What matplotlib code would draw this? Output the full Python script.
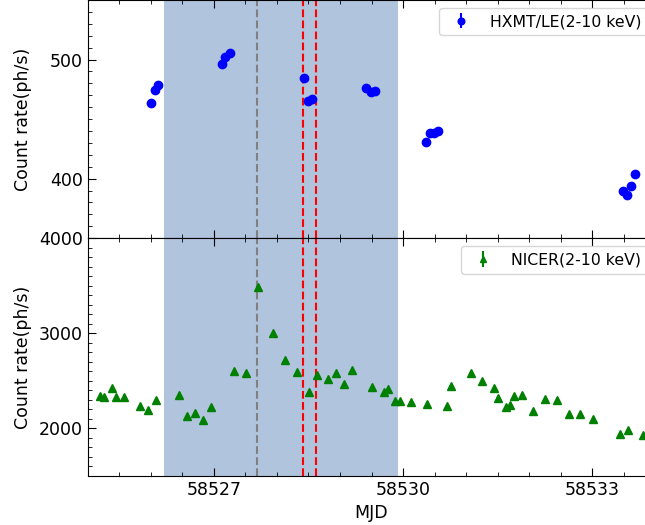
import numpy as np
import matplotlib
matplotlib.use("Agg")
import matplotlib.pyplot as plt
from matplotlib.ticker import MultipleLocator

# HXMT/LE light curve (2-10 keV)
hxmt_t = [58525.996, 58526.060, 58526.118, 58527.122, 58527.175, 58527.249,
          58528.433, 58528.497, 58528.560, 58529.420, 58529.485, 58529.560,
          58530.368, 58530.425, 58530.490, 58530.550,
          58533.485, 58533.544, 58533.612, 58533.670]
hxmt_rate = [463.3, 474.2, 479.0, 496.6, 502.5, 505.3,
             484.3, 465.0, 467.0, 476.5, 472.5, 473.4,
             430.8, 438.1, 438.7, 439.8,
             389.4, 386.6, 393.5, 403.6]
hxmt_err = [2.0, 2.0, 2.0, 2.0, 2.0, 2.0, 2.0, 2.0, 2.0, 2.0,
            2.0, 2.0, 2.0, 2.0, 2.0, 2.0, 2.0, 2.0, 2.0, 2.0]

# NICER light curve (2-10 keV)
nicer_t = [58525.193, 58525.256, 58525.383, 58525.446, 58525.573, 58525.822,
           58525.949, 58526.076, 58526.440, 58526.567, 58526.694, 58526.821,
           58526.947, 58527.317, 58527.507, 58527.693, 58527.941, 58528.132,
           58528.322, 58528.506, 58528.633, 58528.814, 58528.940, 58529.067,
           58529.194, 58529.511, 58529.690, 58529.754, 58529.880, 58529.944,
           58530.130, 58530.383, 58530.690, 58530.753, 58531.070, 58531.256,
           58531.440, 58531.503, 58531.630, 58531.694, 58531.752, 58531.879,
           58532.064, 58532.254, 58532.445, 58532.624, 58532.810, 58533.005,
           58533.438, 58533.565, 58533.810]
nicer_rate = [2342, 2324, 2419, 2324, 2324, 2232,
              2190, 2296, 2348, 2134, 2163, 2089,
              2219, 2602, 2578, 3489, 2997, 2715,
              2596, 2377, 2560, 2514, 2585, 2469,
              2609, 2430, 2377, 2412, 2289, 2289,
              2275, 2253, 2232, 2440, 2585, 2500,
              2419, 2321, 2226, 2250, 2342, 2353,
              2180, 2306, 2300, 2145, 2145, 2099,
              1941, 1979, 1934]
nicer_err = [15] * len(nicer_t)

shade = (58526.207, 58529.917)
grey_line = 58527.688
red_lines = [58528.417, 58528.620]

plt.rcParams['font.size'] = 12.5
plt.rcParams['xtick.direction'] = 'in'
plt.rcParams['ytick.direction'] = 'in'
plt.rcParams['xtick.top'] = True
plt.rcParams['ytick.right'] = True

fig = plt.figure(figsize=(6.45, 5.25), dpi=100)
left, right = 0.136, 1.016
ax1 = fig.add_axes([left, 0.5464, right - left, 0.4536])
ax2 = fig.add_axes([left, 0.0937, right - left, 0.4527], sharex=ax1)

for ax in (ax1, ax2):
    ax.axvspan(*shade, color='lightsteelblue', lw=0, zorder=0)
    ax.axvline(grey_line, color='grey', ls='--', lw=1.5)
    for x in red_lines:
        ax.axvline(x, color='red', ls='--', lw=1.5)
    ax.tick_params(which='major', length=6)
    ax.tick_params(which='minor', length=3)
    ax.xaxis.set_major_locator(MultipleLocator(3))
    ax.xaxis.set_minor_locator(MultipleLocator(0.5))

ax1.errorbar(hxmt_t, hxmt_rate, yerr=hxmt_err, fmt='o', color='blue',
             ms=6, label='HXMT/LE(2-10 keV)')
ax1.set_ylim(350, 550)
ax1.yaxis.set_major_locator(MultipleLocator(100))
ax1.yaxis.set_minor_locator(MultipleLocator(10))
ax1.set_ylabel('Count rate(ph/s)')
ax1.legend(loc='upper right', fontsize=11.3, markerscale=0.8)
plt.setp(ax1.get_xticklabels(), visible=False)

ax2.errorbar(nicer_t, nicer_rate, yerr=nicer_err, fmt='^', color='green',
             ms=6, label='NICER(2-10 keV)')
ax2.set_ylim(1500, 4000)
ax2.yaxis.set_major_locator(MultipleLocator(1000))
ax2.yaxis.set_minor_locator(MultipleLocator(100))
ax2.set_ylabel('Count rate(ph/s)')
ax2.set_xlabel('MJD')
ax2.legend(loc='upper right', fontsize=11.3, markerscale=0.8)

ax1.set_xlim(58525.0, 58534.0)
ax1.yaxis.set_label_coords(-0.098, 0.5)
ax2.yaxis.set_label_coords(-0.098, 0.5)

fig.savefig('out.png', dpi=100)
